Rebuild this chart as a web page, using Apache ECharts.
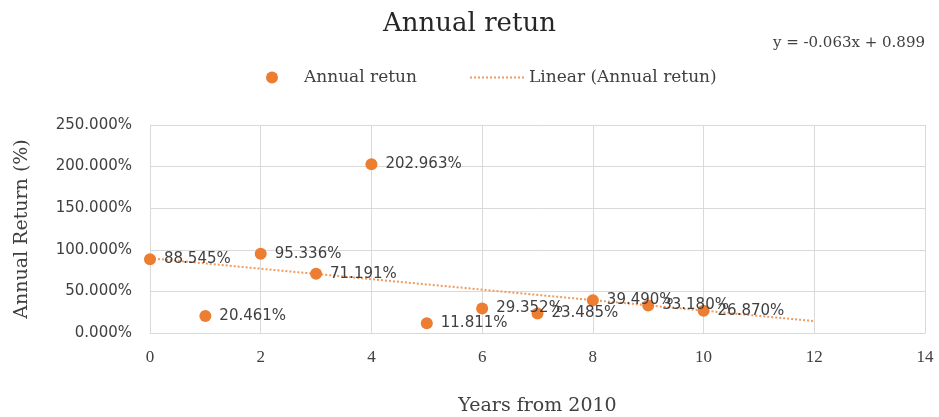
<!DOCTYPE html>
<html>
<head>
<meta charset="utf-8">
<script src="https://cdn.jsdelivr.net/npm/echarts@6/dist/echarts.min.js"></script>
<style>
  html, body { margin: 0; padding: 0; background: #fff; }
  #chart { width: 939px; height: 417px; }
</style>
</head>
<body>
<div id="chart"></div>
<script>
// Years since 2010 and the annual return for each (percent)
const years = [0, 1, 2, 3, 4, 5, 6, 7, 8, 9, 10];
const annualReturn = [88.545, 20.461, 95.336, 71.191, 202.963, 11.811, 29.352, 23.485, 39.490, 33.180, 26.870];

// Linear trend line end points (percent)
const trendYears = [0, 12];
const trendValues = [89.9, 14.3];

const xTicks = { min: 0, max: 14, step: 2 };
const yTicks = { min: 0, max: 250, step: 50 };
const equationText = 'y = -0.063x + 0.899';

const orange = '#ED7D31';
const trendOrange = '#F09A5E';
const textGray = '#404040';
const gridGray = '#D9D9D9';
const serif = '"DejaVu Serif", "Liberation Serif", serif';
const narrowSerif = '"Liberation Serif", serif';
const sans = '"DejaVu Sans", Verdana, sans-serif';

const chart = echarts.init(document.getElementById('chart'), null, { renderer: 'canvas' });

chart.setOption({
  animation: false,
  title: {
    text: 'Annual retun',
    left: 'center',
    top: 6,
    textStyle: { fontFamily: serif, fontSize: 26, fontWeight: 'normal', color: '#262626' }
  },
  graphic: [{
    type: 'text',
    right: 14,
    top: 36,
    style: { text: equationText, fontFamily: serif, fontSize: 15, fill: textGray }
  }],
  legend: {
    top: 64,
    left: 261,
    itemGap: 52,
    itemWidth: 54,
    itemHeight: 12,
    textStyle: { fontFamily: serif, fontSize: 17, color: textGray },
    data: [
      { name: 'Annual retun', icon: 'circle', itemStyle: { color: orange } },
      { name: 'Linear (Annual retun)', itemStyle: { opacity: 0 } }
    ]
  },
  grid: { left: 150, right: 14, top: 125, bottom: 84 },
  xAxis: {
    type: 'value',
    min: xTicks.min,
    max: xTicks.max,
    interval: xTicks.step,
    name: 'Years from 2010',
    nameLocation: 'middle',
    nameGap: 64,
    nameTextStyle: { fontFamily: serif, fontSize: 19, color: textGray },
    axisLine: { show: true, lineStyle: { color: gridGray } },
    axisTick: { show: false },
    axisLabel: { margin: 16, fontFamily: narrowSerif, fontSize: 17, color: textGray },
    splitLine: { show: true, lineStyle: { color: gridGray, width: 1 } }
  },
  yAxis: {
    type: 'value',
    min: yTicks.min,
    max: yTicks.max,
    interval: yTicks.step,
    name: 'Annual Return (%)',
    nameLocation: 'middle',
    nameGap: 118,
    nameTextStyle: { fontFamily: serif, fontSize: 19, color: textGray },
    axisLine: { show: true, lineStyle: { color: gridGray } },
    axisTick: { show: false },
    axisLabel: {
      margin: 18,
      fontFamily: sans,
      fontSize: 15,
      color: textGray,
      formatter: v => v.toFixed(3) + '%'
    },
    splitLine: { show: true, lineStyle: { color: gridGray, width: 1 } }
  },
  series: [
    {
      name: 'Linear (Annual retun)',
      type: 'line',
      data: trendYears.map((x, i) => [x, trendValues[i]]),
      symbol: 'none',
      lineStyle: { color: trendOrange, width: 2, type: [2, 2] },
      itemStyle: { color: trendOrange },
      z: 2
    },
    {
      name: 'Annual retun',
      type: 'scatter',
      data: years.map((x, i) => [x, annualReturn[i]]),
      symbolSize: 12,
      itemStyle: { color: orange, opacity: 1 },
      label: {
        show: true,
        position: 'right',
        distance: 8,
        fontFamily: sans,
        fontSize: 15,
        color: textGray,
        formatter: p => p.value[1].toFixed(3) + '%'
      },
      z: 3
    }
  ]
});
</script>
</body>
</html>
